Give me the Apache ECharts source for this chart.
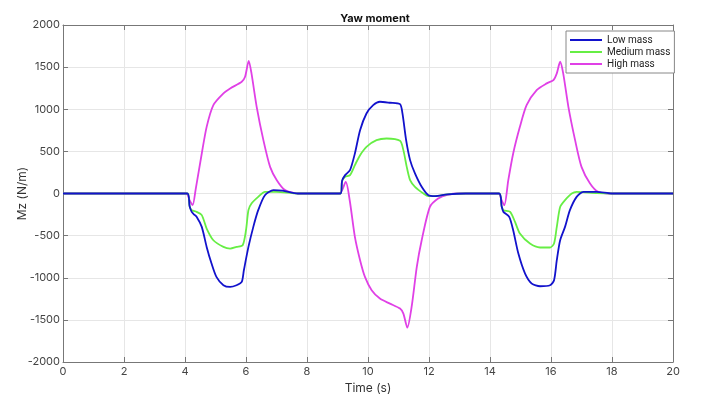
<!DOCTYPE html>
<html>
<head>
<meta charset="utf-8">
<script src="https://cdn.jsdelivr.net/npm/echarts@6/dist/echarts.min.js"></script>
<style>html,body{margin:0;padding:0;background:#fff}#c{width:703px;height:396px}</style>
</head>
<body>
<div id="c"></div>
<script>
const seriesNames = ['Low mass', 'Medium mass', 'High mass'];
const xTicks = [0, 2, 4, 6, 8, 10, 12, 14, 16, 18, 20];
const yTicks = [-2000, -1500, -1000, -500, 0, 500, 1000, 1500, 2000];

const lowT = [0, 4.08, 4.15, 4.22, 4.3, 4.38, 4.55, 4.71, 4.87, 5.03, 5.26, 5.48, 5.69, 5.86, 5.93, 6.08, 6.24, 6.4, 6.62, 6.9, 7.2, 7.7, 9.1, 9.15, 9.25, 9.41, 9.57, 9.74, 9.95, 10.17, 10.39, 10.72, 11.05, 11.13, 11.25, 11.38, 11.54, 11.76, 11.98, 12.2, 12.6, 13.2, 14.3, 14.38, 14.44, 14.63, 14.76, 14.93, 15.15, 15.37, 15.64, 15.97, 16.1, 16.19, 16.3, 16.46, 16.62, 16.84, 17.06, 17.5, 18.0, 20];
const lowV = [0, 0, -150, -218, -250, -275, -396, -634, -832, -990, -1089, -1109, -1089, -1050, -911, -634, -396, -198, -20, 40, 35, 0, 0, 150, 218, 277, 475, 752, 950, 1049, 1089, 1077, 1061, 950, 633, 396, 238, 79, -20, -30, -10, 0, 0, -150, -218, -277, -436, -713, -950, -1069, -1101, -1089, -1030, -792, -555, -396, -198, -40, 20, 20, 0, 0];

const medT = [0, 4.08, 4.15, 4.22, 4.38, 4.55, 4.71, 4.93, 5.26, 5.48, 5.69, 5.89, 6.0, 6.08, 6.18, 6.4, 6.62, 7.0, 7.7, 9.1, 9.15, 9.25, 9.41, 9.57, 9.74, 9.95, 10.28, 10.61, 11.05, 11.16, 11.27, 11.38, 11.54, 11.82, 11.98, 12.2, 12.6, 13.2, 14.3, 14.38, 14.44, 14.66, 14.82, 14.98, 15.31, 15.64, 15.97, 16.1, 16.19, 16.3, 16.46, 16.68, 16.84, 17.5, 18, 20];
const medV = [0, 0, -150, -198, -218, -257, -416, -555, -634, -654, -634, -614, -436, -198, -119, -40, 20, 20, 0, 0, 150, 200, 218, 337, 455, 554, 633, 653, 625, 515, 316, 158, 79, 0, -30, -30, -10, 0, 0, -150, -198, -218, -337, -475, -594, -641, -641, -594, -396, -159, -79, 0, 20, 5, 0, 0];

const highT = [0, 4.04, 4.15, 4.25, 4.35, 4.55, 4.71, 4.93, 5.26, 5.48, 5.86, 5.97, 6.09, 6.18, 6.35, 6.57, 6.79, 7.01, 7.28, 7.7, 9.06, 9.27, 9.4, 9.57, 9.74, 9.9, 10.12, 10.39, 10.72, 11.05, 11.16, 11.29, 11.43, 11.6, 11.76, 12.03, 12.3, 12.6, 13.0, 14.28, 14.38, 14.47, 14.6, 14.76, 14.98, 15.2, 15.53, 15.86, 16.08, 16.19, 16.3, 16.4, 16.57, 16.79, 17.0, 17.28, 17.55, 18.0, 20];
const highV = [0, 0, -80, -139, 50, 475, 791, 1049, 1188, 1247, 1326, 1385, 1575, 1425, 1029, 633, 316, 158, 40, 0, 0, 138, -80, -515, -792, -990, -1148, -1247, -1307, -1366, -1426, -1592, -1347, -871, -555, -159, -60, -15, 0, 0, -80, -139, 158, 475, 791, 1049, 1227, 1307, 1346, 1426, 1564, 1426, 1029, 633, 316, 119, 20, 0, 0];

const colors = ['#1212cc', '#66ee44', '#e040e6'];
const zip = (t, v) => t.map((x, i) => [x, v[i]]);
const dataSets = [zip(lowT, lowV), zip(medT, medV), zip(highT, highV)];

const chart = echarts.init(document.getElementById('c'));
const axisLineStyle = { show: true, onZero: false, lineStyle: { color: '#777', width: 1 } };
const tickStyle = { show: true, inside: true, length: 5, lineStyle: { color: '#777' } };
chart.setOption({
  animation: false,
  backgroundColor: '#fff',
  title: {
    text: 'Yaw moment', left: 370, top: 8, textAlign: 'center',
    textStyle: { fontSize: 11, fontWeight: 'bold', color: '#111', fontFamily: 'Inter' }
  },
  legend: {
    data: seriesNames, orient: 'vertical', left: 566, top: 31,
    padding: [3, 4, 3, 4], itemGap: 0, itemWidth: 32, itemHeight: 2, icon: 'rect',
    borderColor: '#888', borderWidth: 1, backgroundColor: '#fff', borderRadius: 0,
    textStyle: { fontSize: 10, lineHeight: 12, color: '#222', fontFamily: 'Roboto' }
  },
  grid: { left: 63, right: 30, top: 25, bottom: 34, containLabel: false, outerBoundsMode: 'none' },
  xAxis: [{
    type: 'value', min: 0, max: 20, interval: 2,
    name: 'Time (s)', nameLocation: 'middle', nameGap: 18,
    nameTextStyle: { fontSize: 12, color: '#333', fontFamily: 'Inter' },
    axisLine: axisLineStyle, axisTick: tickStyle,
    axisLabel: { fontSize: 11, color: '#444', margin: 4, fontFamily: 'Inter' },
    splitLine: { show: true, lineStyle: { color: '#e6e6e6', width: 1 } }
  }, {
    type: 'value', min: 0, max: 20, interval: 2, position: 'top',
    axisLine: axisLineStyle, axisTick: tickStyle,
    axisLabel: { show: false }, splitLine: { show: false }
  }],
  yAxis: [{
    type: 'value', min: -2000, max: 2000, interval: 500,
    name: 'Mz (N/m)', nameLocation: 'middle', nameGap: 35, nameMoveOverlap: false,
    nameTextStyle: { fontSize: 12, color: '#333', fontFamily: 'Inter' },
    axisLine: axisLineStyle, axisTick: tickStyle,
    axisLabel: { fontSize: 11, color: '#444', margin: 3, fontFamily: 'Inter', formatter: v => String(v) },
    splitLine: { show: true, lineStyle: { color: '#e6e6e6', width: 1 } }
  }, {
    type: 'value', min: -2000, max: 2000, interval: 500, position: 'right',
    axisLine: axisLineStyle, axisTick: tickStyle,
    axisLabel: { show: false }, splitLine: { show: false }
  }],
  series: seriesNames.map((n, i) => ({
    name: n, type: 'line', data: dataSets[i], showSymbol: false, symbol: 'none',
    smooth: 0.25, color: colors[i],
    lineStyle: { width: 1.8, color: colors[i] }, z: 3 + (i === 2 ? 0 : 2 - i)
  }))
});
</script>
</body>
</html>
